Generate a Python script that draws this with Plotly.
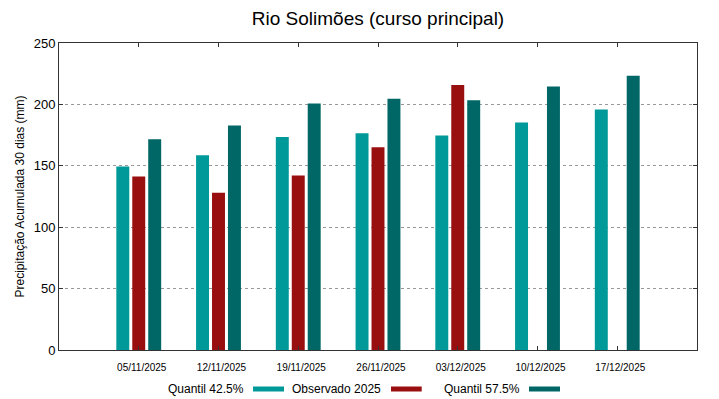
import plotly.graph_objects as go

categories = ["05/11/2025", "12/11/2025", "19/11/2025", "26/11/2025",
              "03/12/2025", "10/12/2025", "17/12/2025"]
quantil_425 = [149.5, 158.6, 173.5, 176.5, 174.6, 185.2, 195.8]
observado_2025 = [141.3, 128.0, 142.1, 165.1, 215.8, None, None]
quantil_575 = [171.6, 182.8, 200.7, 204.7, 203.4, 214.5, 223.4]
y_ticks = [0, 50, 100, 150, 200, 250]

series = [
    ("Quantil 42.5%", quantil_425, "#009999"),
    ("Observado 2025", observado_2025, "#990f0f"),
    ("Quantil 57.5%", quantil_575, "#006666"),
]

FONT = "Liberation Sans, Arial, sans-serif"
x_idx = list(range(len(categories)))

# page body has an 8px margin; compensate so the figure fills the window
OFF = 8
W, H = 719 - OFF, 399 - OFF
L, R, T, B = 59, 697, 43, 350          # target plot area in window pixels
pw, ph = R - L, B - T

fig = go.Figure()
for name, vals, color in series:
    fig.add_trace(go.Bar(x=x_idx, y=vals, name=name, marker_color=color,
                         marker_line_width=0, showlegend=False))

def px(x):
    return (x - L) / pw
def py(y):
    return (B - y) / ph

# manual legend (text followed by swatch, like the reference)
legend_pos = [(245.7, 253, 284), (383.3, 391, 421.7), (521.7, 529, 560)]
for (name, vals, color), (tx, s0, s1) in zip(series, legend_pos):
    fig.add_annotation(text=name, x=px(tx), y=py(388.5), xref="paper", yref="paper",
                       xanchor="right", yanchor="middle", showarrow=False,
                       font=dict(family=FONT, size=12, color="#000"))
    fig.add_shape(type="rect", xref="paper", yref="paper",
                  x0=px(s0), x1=px(s1), y0=py(386.5), y1=py(391.5),
                  fillcolor=color, line_width=0)

fig.update_layout(
    width=W, height=H,
    margin=dict(l=L - OFF, r=719 - R, t=T - OFF, b=399 - B),
    paper_bgcolor="white", plot_bgcolor="white",
    barmode="group", bargap=0.4, bargroupgap=0.1875,
    title=dict(text="Rio Solimões (curso principal)",
               x=((L + R) / 2 - OFF) / W, xanchor="center",
               y=1 - (18.5 - OFF) / H, yanchor="middle",
               font=dict(family=FONT, size=19, color="#000")),
    font=dict(family=FONT, color="#000"),
)
fig.update_xaxes(range=[-1, 7], tickvals=x_idx, ticktext=categories,
                 tickfont=dict(size=10), ticks="inside", ticklen=4,
                 ticklabelshift=3, ticklabelstandoff=8,
                 tickcolor="#333", showline=True, linecolor="#333", linewidth=1,
                 mirror="ticks", showgrid=False, zeroline=False)
fig.update_yaxes(range=[0, 250], tickvals=y_ticks, tickfont=dict(size=13),
                 ticks="inside", ticklen=4, tickcolor="#333",
                 showline=True, linecolor="#333", linewidth=1, mirror="ticks",
                 showgrid=True, gridcolor="#999", griddash="dot", gridwidth=1,
                 zeroline=False,
                 title=dict(text="Precipitação Acumulada 30 dias (mm)",
                            font=dict(size=12), standoff=6))

fig.write_html("out.html")
